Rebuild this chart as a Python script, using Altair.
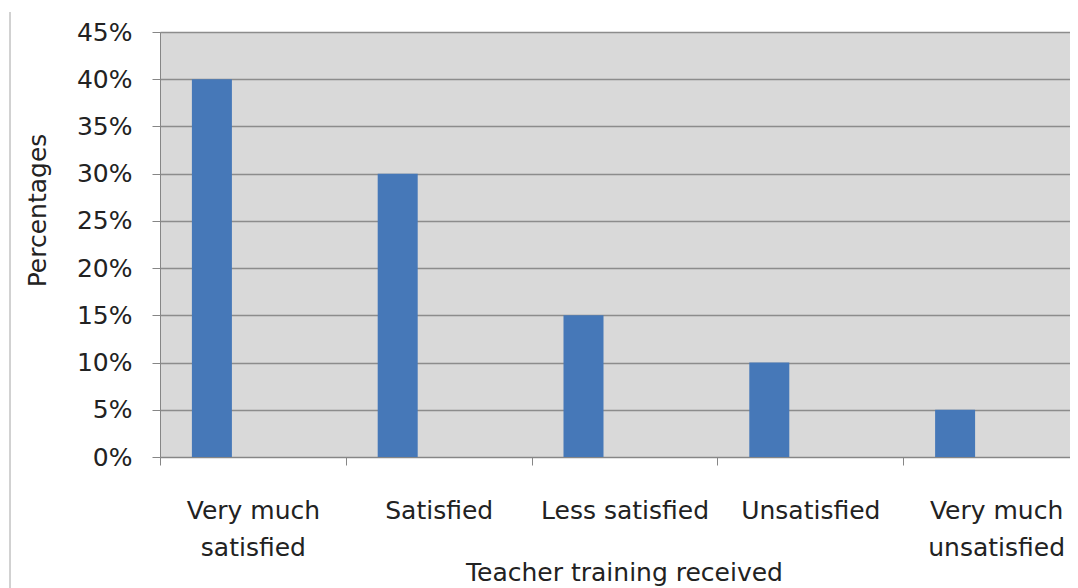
import altair as alt
import pandas as pd

categories = ["Very much satisfied", "Satisfied", "Less satisfied", "Unsatisfied", "Very much unsatisfied"]
values = [0.40, 0.30, 0.15, 0.10, 0.05]

df = pd.DataFrame({"category": categories, "value": values})

FONT = "DejaVu Sans"
FS = 25

label_expr = ("indexof(datum.label, 'Very much ') == 0 ? "
              "['Very much', substring(datum.label, 10)] : datum.label")

bars = alt.Chart(df).mark_bar(color="#4678B8", width=40, xOffset=-41).encode(
    x=alt.X("category:N", sort=categories,
            scale=alt.Scale(paddingInner=0, paddingOuter=0, range=[0, 929]),
            axis=alt.Axis(title="Teacher training received", labelAngle=0,
                          labelExpr=label_expr, tickBand="extent",
                          labelPadding=33, labelBaseline="top",
                          labelLineHeight=37, labelFontSize=FS, labelFont=FONT,
                          labelColor="#222222", titleFontSize=FS, titleFont=FONT,
                          titleFontWeight="normal", titleColor="#222222",
                          titlePadding=0, titleX=464, domainColor="#868686",
                          tickColor="#868686", tickSize=8, grid=False,
                          labelLimit=300)),
    y=alt.Y("value:Q",
            scale=alt.Scale(domain=[0, 0.45]),
            axis=alt.Axis(title="Percentages", format=".0%", values=[0, .05, .1, .15, .2, .25, .3, .35, .4, .45],
                          labelFontSize=FS, labelFont=FONT, labelColor="#222222",
                          labelPadding=20, titleFontSize=FS, titleFont=FONT,
                          titleFontWeight="normal", titleColor="#222222",
                          titleY=178, titleX=-110,
                          domainColor="#868686", tickColor="#868686", tickSize=8,
                          gridColor="#8C8C8C", gridWidth=1.5)),
)

border = alt.Chart(df).mark_rule(color="#D0D0D0", strokeWidth=1).encode(
    x=alt.value(-150), y=alt.value(-20), y2=alt.value(560)
)

chart = alt.layer(bars, border).properties(
    width=910, height=425,
    autosize=alt.AutoSizeParams(type="none"),
    padding={"left": 152, "top": 24, "right": 0, "bottom": 131},
).configure(background="white").configure_view(fill="#D9D9D9", stroke=None)

chart.save("out.html", embed_options={"renderer": "svg", "actions": False})
